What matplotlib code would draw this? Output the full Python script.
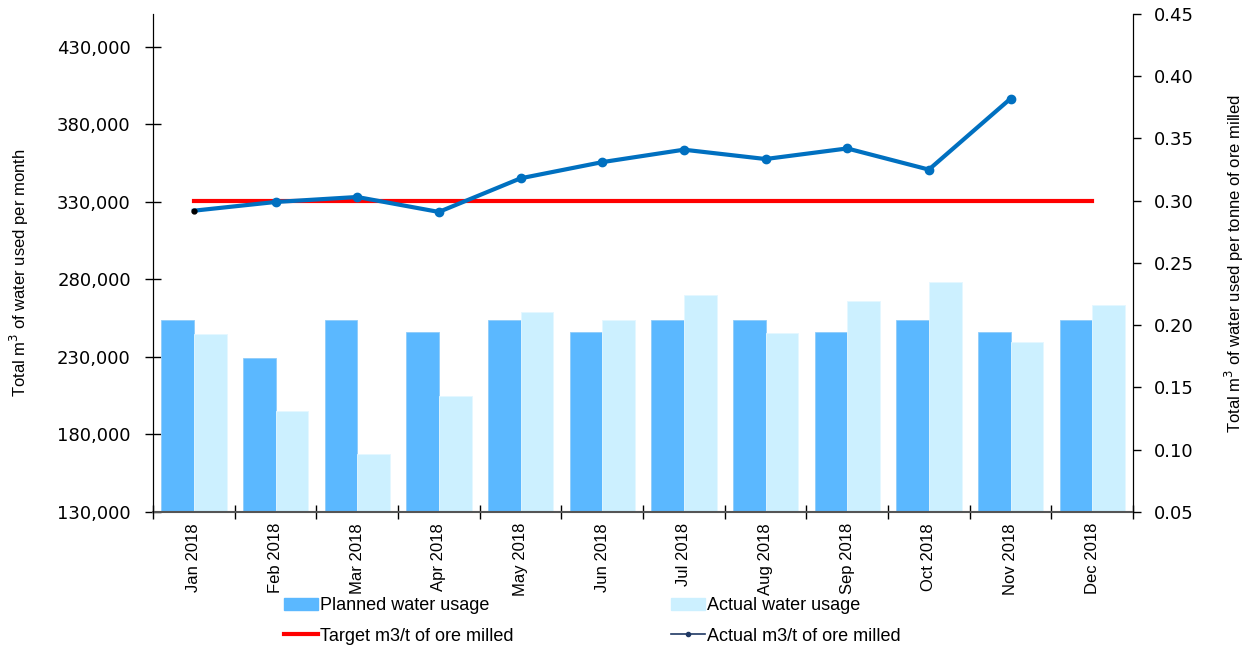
import numpy as np
import matplotlib
matplotlib.use("Agg")
import matplotlib.pyplot as plt
from matplotlib.lines import Line2D
from matplotlib.patches import Patch

#DATA
months = ["Jan 2018", "Feb 2018", "Mar 2018", "Apr 2018", "May 2018", "Jun 2018",
          "Jul 2018", "Aug 2018", "Sep 2018", "Oct 2018", "Nov 2018", "Dec 2018"]
planned = [253500, 229400, 253500, 245800, 253500, 245800,
           253500, 253500, 245800, 253500, 245800, 253500]
actual = [244500, 194900, 167600, 204500, 258700, 253500,
          269800, 245100, 265900, 278200, 239700, 263400]
target_ratio = [0.30] * 12
actual_ratio = [0.292, 0.299, 0.303, 0.291, 0.318, 0.331,
                0.341, 0.3335, 0.342, 0.325, 0.382, np.nan]

plt.rcParams["font.family"] = ["DejaVu Sans"]
narrow = ["Liberation Sans", "DejaVu Sans"]

fig = plt.figure(figsize=(12.44, 6.5), dpi=100)
ax = fig.add_axes([0.123, 0.2123, 0.7878, 0.7662])
ax2 = ax.twinx()

x = np.arange(len(months))
w = 0.4
ax.bar(x - w / 2, planned, w, color="#5BB8FF", edgecolor="#8FCCFA", linewidth=0.6, zorder=2)
ax.bar(x + w / 2, actual, w, color="#CCF0FF", edgecolor="#E4F7FF", linewidth=0.6, zorder=2)

ax2.plot(x, target_ratio, color="#FF0000", lw=3, zorder=3)
ax2.plot(x, actual_ratio, color="#0070C0", lw=3, marker="o", ms=6,
         markevery=list(range(1, len(months))), zorder=4)
# first point is only a small black dot
ax2.plot(x[:1], actual_ratio[:1], "o", color="black", ms=3.5, zorder=5)

#AXES
ax.set_xlim(-0.5, len(months) - 0.5)
ax.set_ylim(130000, 451000)
ax.set_yticks(np.arange(130000, 430001, 50000))
ax.set_yticklabels([f"{v:,}" for v in range(130000, 430001, 50000)], fontsize=13)
ax2.set_ylim(0.05, 0.45)
ax2.set_yticks(np.arange(0.05, 0.451, 0.05))
ax2.set_yticklabels([f"{v:.2f}" for v in np.arange(0.05, 0.451, 0.05)], fontsize=13)

ax.set_xticks(np.arange(-0.5, len(months), 1.0))
ax.set_xticklabels([])
ax.set_xticks(x, minor=True)
ax.set_xticklabels(months, minor=True, rotation=90, fontsize=12, family=narrow)
ax.tick_params(axis="x", which="major", direction="inout", length=10, width=1)
ax.tick_params(axis="x", which="minor", length=0, pad=8)
ax.tick_params(axis="y", direction="inout", length=12, width=1, pad=10)
ax2.tick_params(axis="y", direction="out", length=6, width=1, pad=9)

for a in (ax, ax2):
    a.spines["top"].set_visible(False)
ax.spines["bottom"].set_color("#555555")
ax.spines["bottom"].set_linewidth(1.5)
ax2.spines["bottom"].set_visible(False)

ax.set_ylabel("Total m$^3$ of water used per month", fontsize=12, family=narrow)
ax2.set_ylabel("Total m$^3$ of water used per tonne of ore milled", fontsize=12,
               family=narrow)
ax.yaxis.set_label_coords(-0.125, 0.48)
ax2.yaxis.set_label_coords(1.092, 0.5)

#LEGEND
handles = [Patch(color="#5BB8FF"),
           Line2D([], [], color="#FF0000", lw=3),
           Patch(color="#CCF0FF"),
           Line2D([], [], color="#1F3864", lw=1.2, marker="o", ms=3)]
labels = ["Planned water usage", "Target m3/t of ore milled",
          "Actual water usage", "Actual m3/t of ore milled"]
fig.legend(handles, labels, ncol=2, loc="center", bbox_to_anchor=(0.476, 0.0446),
           frameon=False, prop={"family": narrow, "size": 13}, handlelength=1.9,
           handletextpad=0.1, columnspacing=8.7, labelspacing=0.75)

plt.savefig("out.png", dpi=100)
